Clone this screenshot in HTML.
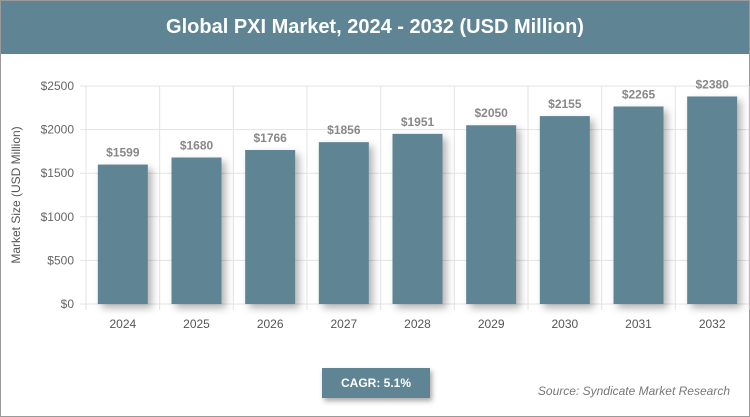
<!DOCTYPE html>
<html><head><meta charset="utf-8"><style>
body{margin:0;width:750px;height:417px;overflow:hidden;background:#fff;font-family:"Liberation Sans",sans-serif}
#frame{position:absolute;left:0;top:0;width:748px;height:415px;border:1px solid #9a9a9a;background:#fff}
#title{position:absolute;left:0;top:0;width:748px;height:53px;background:#5f8494;color:#fff;font-weight:bold;font-size:20px;line-height:53px;text-align:center}
#cagr{position:absolute;left:322px;top:368px;width:108px;height:30px;background:#5f8494;color:#fff;font-weight:bold;font-size:12px;line-height:30px;text-align:center;box-shadow:2px 3px 5px rgba(0,0,0,.35)}
#src{position:absolute;right:20px;top:384px;font-style:italic;font-size:12px;color:#777}
</style></head><body>
<div id="frame">
<div id="title">Global PXI Market, 2024 - 2032 (USD Million)</div>
</div>
<svg id="chart" width="750" height="417" style="position:absolute;left:0;top:0">
<defs><filter id="sh" x="-30%" y="-10%" width="170%" height="130%"><feDropShadow dx="4" dy="4" stdDeviation="4" flood-color="#000" flood-opacity="0.3"/></filter></defs>
<g id="grid"></g><g id="bars"></g><g id="labels"></g>
<text x="20" y="195" transform="rotate(-90 20 195)" text-anchor="middle" font-size="12" fill="#555">Market Size (USD Million)</text>
</svg>
<div id="cagr">CAGR: 5.1%</div>
<div id="src">Source: Syndicate Market Research</div>
<script>
const categories=["2024","2025","2026","2027","2028","2029","2030","2031","2032"];
const values=[1599,1680,1766,1856,1951,2050,2155,2265,2380];
const yTicks=[0,500,1000,1500,2000,2500];
const NS="http://www.w3.org/2000/svg";
const L=86,R=749,T=86,B=304,yMax=2500;
const band=(R-L)/categories.length;
const y=v=>B-(v/yMax)*(B-T);
const x=i=>L+band*i;
function mk(tag,attrs,parent,text){const e=document.createElementNS(NS,tag);for(const k in attrs)e.setAttribute(k,attrs[k]);if(text!==undefined)e.textContent=text;parent.appendChild(e);return e;}
const grid=document.getElementById('grid'),bars=document.getElementById('bars'),labels=document.getElementById('labels');
yTicks.forEach(t=>{
  const l=mk('line',{x1:L-6,x2:R,y1:y(t),y2:y(t),stroke:'#e3e3e3'},grid);
  
  
  const tx=mk('text',{x:L-12,y:y(t)+4,'text-anchor':'end','font-size':12,fill:'#666'},grid,'$'+t);
  
  
});
for(let i=0;i<=categories.length;i++){
  const l=mk('line',{x1:x(i),x2:x(i),y1:T,y2:B+6,stroke:'#e3e3e3'},grid);
  
  
}
categories.forEach((c,i)=>{
  const cx=x(i)+band/2;
  const r=mk('rect',{x:cx-25,y:y(values[i]),width:50,height:B-y(values[i]),fill:'#5f8494',filter:'url(#sh)'},bars);
  
  
  const v=mk('text',{x:cx,y:y(values[i])-8,'text-anchor':'middle','font-size':12,'font-weight':'bold',fill:'#888'},labels,'$'+values[i]);
  
  
  const t=mk('text',{x:cx,y:B+24,'text-anchor':'middle','font-size':12,fill:'#555'},labels,c);
  
  
});
</script>
</body></html>
